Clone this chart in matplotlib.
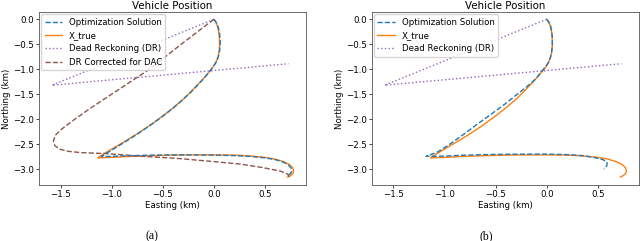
import numpy as np
import matplotlib
matplotlib.use("Agg")
from matplotlib import pyplot as plt

# true trajectory (km)
true_x = [0.0, 0.02, 0.035, 0.047, 0.054, 0.056, 0.052, 0.04, 0.02, -0.01, -0.05, -0.1, -0.16,
          -0.225, -0.3, -0.39, -0.49, -0.61, -0.74, -0.875, -1.0, -1.09, -1.12, -1.135,
          -1.0, -0.8, -0.6, -0.4, -0.2, 0.0, 0.2, 0.35, 0.5, 0.6, 0.68, 0.74, 0.77, 0.78,
          0.775, 0.75, 0.72]
true_y = [0.0, -0.06, -0.14, -0.25, -0.38, -0.5, -0.62, -0.75, -0.86, -0.96, -1.06, -1.18, -1.31,
          -1.45, -1.6, -1.76, -1.92, -2.1, -2.28, -2.45, -2.6, -2.71, -2.75, -2.775,
          -2.765, -2.745, -2.73, -2.72, -2.715, -2.715, -2.72, -2.735, -2.765, -2.8, -2.85,
          -2.91, -2.97, -3.03, -3.08, -3.13, -3.16]

# optimization solution, panel (a)
opt_a_x = [0.0, 0.022, 0.04, 0.053, 0.06, 0.062, 0.057, 0.044, 0.022, -0.01, -0.05, -0.1, -0.16,
           -0.23, -0.31, -0.4, -0.5, -0.62, -0.75, -0.88, -1.0, -1.07, -1.1,
           -0.95, -0.8, -0.6, -0.4, -0.2, 0.0, 0.2, 0.35, 0.5, 0.6, 0.68, 0.73, 0.755, 0.76,
           0.75, 0.72]
opt_a_y = [0.0, -0.06, -0.14, -0.25, -0.38, -0.5, -0.62, -0.75, -0.86, -0.96, -1.07, -1.19, -1.32,
           -1.47, -1.62, -1.78, -1.94, -2.12, -2.3, -2.47, -2.62, -2.71, -2.75,
           -2.74, -2.73, -2.72, -2.715, -2.715, -2.72, -2.73, -2.745, -2.775, -2.81, -2.86,
           -2.92, -2.98, -3.04, -3.09, -3.12]

# optimization solution, panel (b)
opt_b_x = [0.0, 0.022, 0.04, 0.05, 0.055, 0.055, 0.05, 0.038, 0.018, -0.015, -0.06, -0.11, -0.2,
           -0.3, -0.41, -0.53, -0.665, -0.81, -0.96, -1.07, -1.18,
           -1.0, -0.8, -0.5, -0.2, 0.0, 0.2, 0.35, 0.47, 0.55, 0.59, 0.59, 0.575, 0.56]
opt_b_y = [0.0, -0.06, -0.14, -0.25, -0.38, -0.5, -0.62, -0.75, -0.86, -0.96, -1.07, -1.2, -1.36,
           -1.52, -1.7, -1.88, -2.08, -2.3, -2.52, -2.66, -2.745,
           -2.74, -2.72, -2.705, -2.7, -2.7, -2.71, -2.73, -2.77, -2.81, -2.86, -2.92, -2.97, -3.0]

# dead reckoning
dr_x = [0.0, -1.585, 0.73]
dr_y = [0.0, -1.32, -0.89]

# DR corrected for DAC, panel (a)
drc_x = [0.0, -0.32, -0.63, -1.0, -1.2, -1.36, -1.49, -1.55, -1.57, -1.555, -1.51, -1.42, -1.3,
         -1.05, -0.72, -0.33, 0.0, 0.26, 0.48, 0.65, 0.72, 0.74]
drc_y = [0.0, -0.5, -1.0, -1.5, -1.77, -2.0, -2.2, -2.32, -2.44, -2.53, -2.6, -2.645, -2.67,
         -2.69, -2.74, -2.79, -2.85, -2.9, -2.97, -3.04, -3.1, -3.16]

fs = 6.2
lw = 1.0
plt.rcParams['font.family'] = ['DejaVu Sans']
plt.rcParams['font.size'] = fs

fig = plt.figure(figsize=(6.4, 2.41), dpi=100)
ax_a = fig.add_axes([0.061, 0.232, 0.417, 0.718])
ax_b = fig.add_axes([0.581, 0.232, 0.417, 0.718])

for ax, ox, oy, brown in [(ax_a, opt_a_x, opt_a_y, True), (ax_b, opt_b_x, opt_b_y, False)]:
    ax.plot(ox, oy, '--', color='tab:blue', lw=lw, label='Optimization Solution', zorder=3)
    ax.plot(true_x, true_y, '-', color='tab:orange', lw=lw, label='X_true', zorder=2)
    ax.plot(dr_x, dr_y, ':', color='tab:purple', lw=lw, label='Dead Reckoning (DR)')
    if brown:
        ax.plot(drc_x, drc_y, '--', color='tab:brown', lw=lw, label='DR Corrected for DAC')
    ax.set_xlim(-1.71, 0.90)
    ax.set_ylim(-3.32, 0.145)
    ax.set_xticks([-1.5, -1.0, -0.5, 0.0, 0.5])
    ax.set_title('Vehicle Position', fontsize=7.4, pad=2.5)
    ax.set_xlabel('Easting (km)', fontsize=fs, labelpad=1.5)
    ax.set_ylabel('Northing (km)', fontsize=fs, labelpad=1.5)
    ax.tick_params(labelsize=fs, length=2, width=0.5, pad=1.5)
    for s in ax.spines.values():
        s.set_linewidth(0.6)
        s.set_color('#555555')
    ax.legend(loc='upper left', fontsize=fs, borderaxespad=0.25, handlelength=2.0,
              framealpha=0.8, borderpad=0.4, labelspacing=0.5)

fig.text(152 / 640, 1 - 236 / 241, '(a)', family='Liberation Serif', fontsize=8.5,
         ha='center', va='center')
fig.text(486 / 640, 1 - 236 / 241, '(b)', family='Liberation Serif', fontsize=8.5,
         ha='center', va='center')

fig.savefig('out.png', dpi=100)
